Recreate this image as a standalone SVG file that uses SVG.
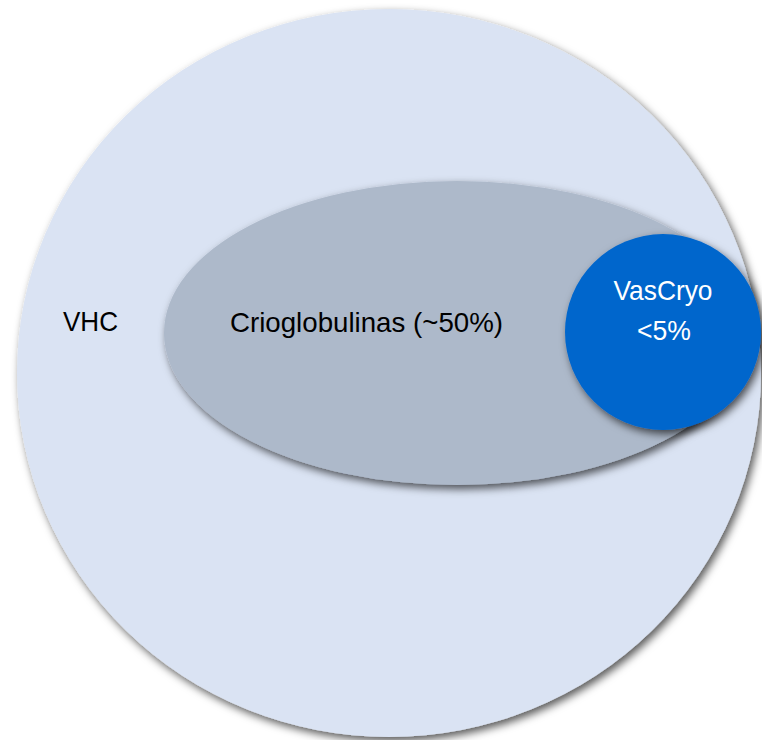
<svg xmlns="http://www.w3.org/2000/svg" width="762" height="740" viewBox="0 0 762 740">
  <defs>
    <filter id="sh" x="-10%" y="-10%" width="125%" height="125%">
      <feDropShadow dx="3" dy="4" stdDeviation="4" flood-color="#000" flood-opacity="0.65"/>
    </filter>
  </defs>
  <style>
    .lbl { font-family: "Liberation Sans", Arial, sans-serif; font-size: 28px; fill: #000; }
    .wlbl { font-family: "Liberation Sans", Arial, sans-serif; font-size: 28px; fill: #fff; text-anchor: middle; }
  </style>
  <rect width="762" height="740" fill="#fff"/>
  <g id="vhc">
    <ellipse cx="389" cy="373" rx="372" ry="364" fill="#DAE3F3" filter="url(#sh)"/>
    <text class="lbl" x="63" y="331" textLength="55" lengthAdjust="spacingAndGlyphs">VHC</text>
  </g>
  <g id="crioglobulinas">
    <ellipse cx="457" cy="333" rx="293" ry="152" fill="#ADB9CA" filter="url(#sh)"/>
    <text class="lbl" x="230" y="332" textLength="273" lengthAdjust="spacingAndGlyphs">Crioglobulinas (~50%)</text>
  </g>
  <g id="vascryo">
    <circle cx="663" cy="332" r="98" fill="#0066CC" filter="url(#sh)"/>
    <text class="wlbl" x="663" y="300" textLength="99" lengthAdjust="spacingAndGlyphs">VasCryo</text>
    <text class="wlbl" x="664" y="340" textLength="54" lengthAdjust="spacingAndGlyphs">&lt;5%</text>
  </g>
  <g id="connectors"/>
</svg>
